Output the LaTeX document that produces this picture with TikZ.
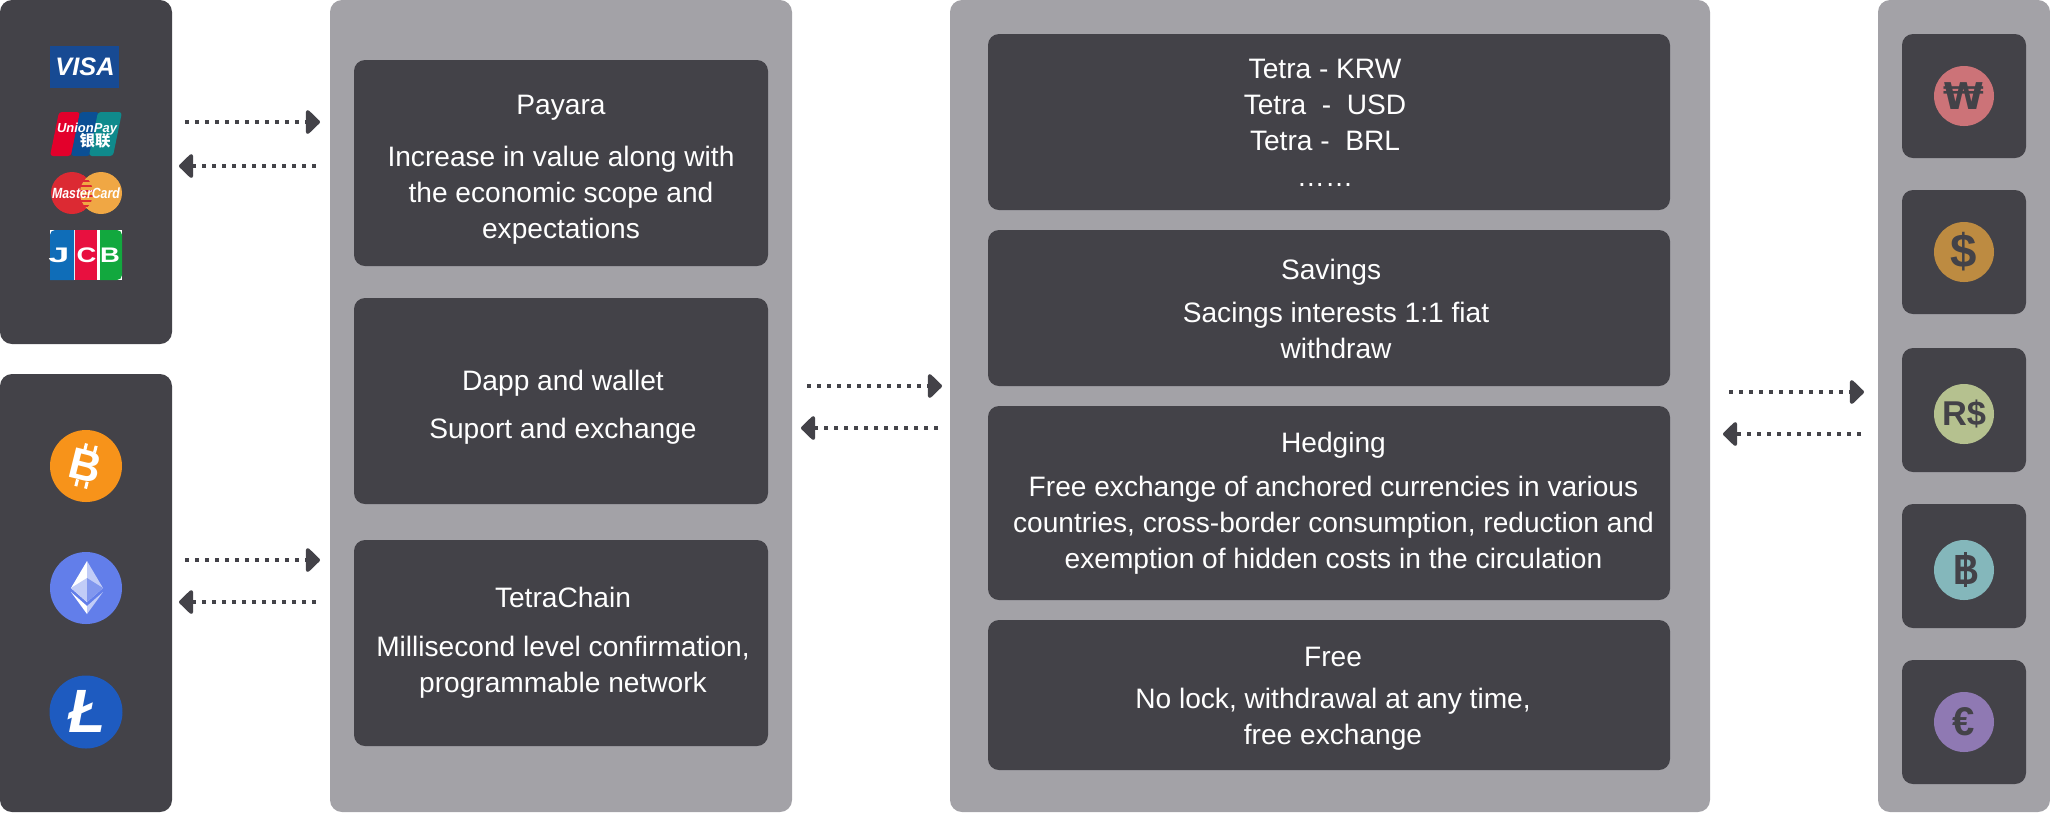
\documentclass[tikz,border=0pt]{standalone}
\usepackage{fontspec}
\setmainfont{Liberation Sans}
\newfontfamily\cjkfont{Noto Sans CJK SC}
\newfontfamily\dejafont{DejaVu Sans}
\usetikzlibrary{arrows.meta}
\definecolor{darkbox}{HTML}{434248}
\definecolor{panelgrey}{HTML}{A3A2A7}
\definecolor{visablue}{HTML}{174A93}
\definecolor{upred}{HTML}{E3002B}
\definecolor{upblue}{HTML}{0B4F94}
\definecolor{upteal}{HTML}{0F8A8C}
\definecolor{mcred}{HTML}{DC2A33}
\definecolor{mcorange}{HTML}{F0A744}
\definecolor{jcbblue}{HTML}{0F6DB8}
\definecolor{jcbred}{HTML}{E8103F}
\definecolor{jcbgreen}{HTML}{12A83E}
\definecolor{etherblue}{HTML}{627EEA}
\definecolor{etherlight}{HTML}{C1CCF7}
\definecolor{ethermid}{HTML}{8197EE}
\tikzset{
	sidepanel/.style={fill=darkbox, inner sep=0, rounded corners=1.2mm},
	greypanel/.style={fill=panelgrey, inner sep=0, rounded corners=1.2mm},
	infobox/.style={fill=darkbox, inner sep=0, rounded corners=1.1mm},
	infotext/.style={text=white, inner sep=0, align=center, font=\fontsize{8}{10.24}\selectfont},
	coin/.style={circle, inner sep=0, minimum size=6mm, text=darkbox, font=\bfseries},
	bigcoin/.style={circle, inner sep=0, minimum size=7.2mm, text=white, font=\bfseries},
	logotext/.style={text=white, inner sep=0, font=\bfseries\itshape},
	flowline/.style={line width=0.4mm, darkbox, dash pattern=on 0.4mm off 0.6mm, -{Triangle[length=1.5mm, width=2.8mm, round]}}
}

\begin{document}
\begin{tikzpicture}[x=0.1mm, y=-0.1mm]
	\useasboundingbox (0,0) rectangle (2050,812);

	% panels
	\node[sidepanel, minimum width=17.2mm, minimum height=34.4mm] (cardpanel) at (86,172) {};
	\node[sidepanel, minimum width=17.2mm, minimum height=43.8mm] (cryptopanel) at (86,593) {};
	\node[greypanel, minimum width=46.2mm, minimum height=81.2mm] (tokenpanel) at (561,406) {};
	\node[greypanel, minimum width=76mm, minimum height=81.2mm] (servicepanel) at (1330,406) {};
	\node[greypanel, minimum width=17.2mm, minimum height=81.2mm] (fiatpanel) at (1964,406) {};

	% middle boxes
	\node[infobox, minimum width=41.4mm, minimum height=20.6mm] (payara) at (561,163) {};
	\node[infobox, minimum width=41.4mm, minimum height=20.6mm] (dapp) at (561,401) {};
	\node[infobox, minimum width=41.4mm, minimum height=20.6mm] (tetrachain) at (561,643) {};
	\node[infotext] (payaratext) at (561,170) {Payara\\[4.55pt] Increase in value along with\\ the economic scope and\\ expectations};
	\node[infotext] (dapptext) at (563,407) {Dapp and wallet\\[3.4pt] Suport and exchange};
	\node[infotext] (tetrachaintext) at (563,643) {TetraChain\\[3.7pt] Millisecond level confirmation,\\ programmable network};

	% right boxes
	\node[infobox, minimum width=68.2mm, minimum height=17.6mm] (pairs) at (1329,122) {};
	\node[infobox, minimum width=68.2mm, minimum height=15.6mm] (savings) at (1329,308) {};
	\node[infobox, minimum width=68.2mm, minimum height=19.4mm] (hedging) at (1329,503) {};
	\node[infobox, minimum width=68.2mm, minimum height=15mm] (free) at (1329,695) {};
	\node[infotext] (pairstext) at (1325,122.5) {Tetra - KRW\\ Tetra \ - \ USD\\ Tetra - \ BRL\\ ……};
	\node[infotext] (savingstext) at (1336,308.5) {Savings\hspace*{2.8pt}\\[2pt] Sacings interests 1:1 fiat\\ withdraw};
	\node[infotext] (hedgingtext) at (1333.5,503) {Hedging\\[2.3pt] Free exchange of anchored currencies in various\\ countries, cross-border consumption, reduction and\\ exemption of hidden costs in the circulation};
	\node[infotext] (freetext) at (1333,698.5) {Free\\[1.7pt] No lock, withdrawal at any time,\\ free exchange};

	% currency boxes
	\node[infobox, minimum size=12.4mm] (wonbox) at (1964,96) {};
	\node[infobox, minimum size=12.4mm] (dollarbox) at (1964,252) {};
	\node[infobox, minimum size=12.4mm] (realbox) at (1964,410) {};
	\node[infobox, minimum size=12.4mm] (bahtbox) at (1964,566) {};
	\node[infobox, minimum size=12.4mm] (eurobox) at (1964,722) {};
	\node[coin, fill={rgb,255:red,204;green,115;blue,120}, font=\dejafont\bfseries\fontsize{10.5}{12}\selectfont] (won) at (wonbox) {₩};
	\node[coin, fill={rgb,255:red,189;green,139;blue,65}, font=\bfseries\fontsize{13.5}{16}\selectfont] (dollar) at (dollarbox) {\$};
	\node[coin, fill={rgb,255:red,181;green,193;blue,143}, font=\bfseries\fontsize{9.8}{11}\selectfont] (real) at (1964,414) {R\$};
	\node[coin, fill={rgb,255:red,132;green,183;blue,187}] (baht) at (1964,570) {};
	\node[coin, fill={rgb,255:red,143;green,121;blue,179}, font=\bfseries\fontsize{11.4}{13}\selectfont] (euro) at (eurobox) {€};
	\node[text=darkbox, inner sep=0, xscale=0.85, font=\bfseries\fontsize{12}{14}\selectfont] (bahtletter) at (1966,570) {B};
	\draw[darkbox, line width=0.3mm] (bahtletter.north) ++(-1,-2.5) -- ++(0,35);

	% visa
	\fill[visablue] (50,46) rectangle (119,88);
	\node[logotext, font=\bfseries\itshape\fontsize{7.2}{8}\selectfont] (visa) at (85,67) {VISA};

	% unionpay
	\fill[upred, rounded corners=0.3mm] (50,156) -- (59,112) -- (80,112) -- (71,156) -- cycle;
	\fill[upblue, rounded corners=0.3mm] (71,156) -- (80,112) -- (99,112) -- (90,156) -- cycle;
	\fill[upteal, rounded corners=0.3mm] (89,156) -- (98,112) -- (122,112) -- (113,156) -- cycle;
	\node[logotext, font=\bfseries\itshape\fontsize{3.7}{4}\selectfont] (unionpay) at (87,129) {UnionPay};
	\node[text=white, inner sep=0, font=\cjkfont\bfseries\fontsize{4.4}{5}\selectfont] (unionpaycn) at (95,141) {银联};

	% mastercard
	\fill[mcred] (72,193) circle [radius=21];
	\fill[mcorange] (101,193) circle [radius=21];
	\begin{scope}
		\clip (72,193) circle [radius=21];
		\foreach \y in {176,181,...,211}
			\draw[mcred, line width=0.2mm] (78,\y) -- (95,\y);
	\end{scope}
	\node[logotext, font=\bfseries\itshape\fontsize{3.5}{4}\selectfont, yscale=1.2] (mastercard) at (86,193) {MasterCard};

	% jcb
	\fill[white] (50,230) rectangle (122,280);
	\fill[jcbblue] (74,280) -- (74,230) [rounded corners=0.5mm] -- (50,230) [sharp corners] -- (50,280) -- cycle;
	\fill[jcbred] (97,280) -- (97,230) -- (75,230) -- (75,280) -- cycle;
	\fill[jcbgreen] (100,280) -- (100,230) [rounded corners=0.5mm] -- (122,230) -- (122,280) [sharp corners] -- (100,280) -- cycle;
	\node[logotext, font=\bfseries\fontsize{6}{7}\selectfont, xscale=1.8] (jcbj) at (59,255) {J};
	\node[logotext, font=\bfseries\fontsize{6}{7}\selectfont, xscale=1.3] (jcbc) at (86.5,255) {C};
	\node[logotext, font=\bfseries\fontsize{6}{7}\selectfont, xscale=1.3] (jcbb) at (110,255) {B};

	% bitcoin
	\node[bigcoin, fill={rgb,255:red,247;green,147;blue,26}] (bitcoin) at (86,466) {};
	\node[text=white, inner sep=0, rotate=-14, font=\bfseries\fontsize{12.5}{14}\selectfont] (bitcoinletter) at (86,466) {B};
	\begin{scope}[shift={(bitcoin.center)}, rotate=-14]
		\foreach \x in {-5,5}{
			\draw[white, line width=0.3mm] (\x,-22) -- (\x,-15);
			\draw[white, line width=0.3mm] (\x,15) -- (\x,22);
		}
	\end{scope}

	% ethereum
	\node[bigcoin, fill=etherblue] (ether) at (86,588) {};
	\fill[white] (87,561) -- (71,588) -- (87,602) -- cycle;
	\fill[etherlight] (87,561) -- (103,588) -- (87,602) -- cycle;
	\fill[etherlight] (87,578) -- (71,588) -- (87,602) -- cycle;
	\fill[ethermid] (87,578) -- (103,588) -- (87,602) -- cycle;
	\fill[white] (71,592) -- (87,606) -- (87,614) -- cycle;
	\fill[etherlight] (103,592) -- (87,606) -- (87,614) -- cycle;

	% litecoin
	\node[bigcoin, fill={rgb,255:red,30;green,91;blue,192}, minimum size=7.3mm] (litecoin) at (86,712) {};
	\node[logotext, anchor=base, font=\bfseries\itshape\fontsize{17.4}{20}\selectfont] (litecoinletter) at (87,732) {Ł};

	% arrows
	\coordinate (cardsfrom) at (185,122);
	\coordinate (cardsto) at (320,122);
	\coordinate (cardsback) at (316,166);
	\coordinate (cardsend) at (179,166);
	\coordinate (cryptofrom) at (185,560);
	\coordinate (cryptoto) at (320,560);
	\coordinate (cryptoback) at (316,602);
	\coordinate (cryptoend) at (179,602);
	\coordinate (tokenfrom) at (807,386);
	\coordinate (tokento) at (942,386);
	\coordinate (tokenback) at (938,428);
	\coordinate (tokenend) at (801,428);
	\coordinate (fiatfrom) at (1729,392);
	\coordinate (fiatto) at (1864,392);
	\coordinate (fiatback) at (1861,434);
	\coordinate (fiatend) at (1723,434);
	\draw[flowline] (cardsfrom) -- (cardsto);
	\draw[flowline] (cardsback) -- (cardsend);
	\draw[flowline] (cryptofrom) -- (cryptoto);
	\draw[flowline] (cryptoback) -- (cryptoend);
	\draw[flowline] (tokenfrom) -- (tokento);
	\draw[flowline] (tokenback) -- (tokenend);
	\draw[flowline] (fiatfrom) -- (fiatto);
	\draw[flowline] (fiatback) -- (fiatend);
\end{tikzpicture}
\end{document}
